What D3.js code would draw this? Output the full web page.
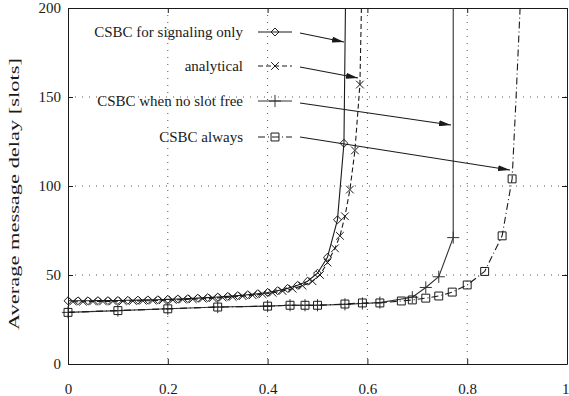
<!DOCTYPE html>
<html>
<head>
<meta charset="utf-8">
<script src="https://cdn.jsdelivr.net/npm/d3@7"></script>
<style>
  body { margin: 0; background: #fff; }
  svg { display: block; font-family: "Liberation Serif", "DejaVu Serif", serif; }
</style>
</head>
<body>
<div id="chart"></div>
<script>
// x ticks / y ticks
const xTicks = [0, 0.2, 0.4, 0.6, 0.8, 1];
const yTicks = [0, 50, 100, 150, 200];

// CSBC for signaling only (diamonds)
const signalingX = [0, 0.02, 0.04, 0.06, 0.08, 0.1, 0.12, 0.14, 0.16, 0.18, 0.2, 0.22, 0.24, 0.26, 0.28, 0.3,
  0.32, 0.34, 0.36, 0.38, 0.4, 0.42, 0.44, 0.46, 0.48, 0.5, 0.52, 0.54, 0.553];
const signalingY = [35.5, 35.5, 35.5, 35.6, 35.6, 35.7, 35.8, 35.9, 36, 36.1, 36.3, 36.5, 36.7, 37, 37.3, 37.6,
  38, 38.4, 38.9, 39.5, 40.2, 41.2, 42.5, 44.2, 46.5, 51, 60, 81, 124];
const signalingTailX = [0.556];
const signalingTailY = [200];

// analytical (crosses)
const analyticalX = [0.01, 0.03, 0.05, 0.07, 0.09, 0.11, 0.13, 0.15, 0.17, 0.19, 0.21, 0.23, 0.25, 0.27, 0.29,
  0.31, 0.33, 0.35, 0.37, 0.39, 0.41, 0.43, 0.45, 0.47, 0.49, 0.505, 0.52, 0.535, 0.545, 0.555, 0.565, 0.575, 0.585];
const analyticalY = [35, 35, 35.1, 35.1, 35.2, 35.3, 35.4, 35.5, 35.6, 35.8, 36, 36.2, 36.4, 36.7, 37,
  37.3, 37.7, 38.1, 38.6, 39.2, 40, 41, 42.3, 44, 46.5, 50, 57, 65, 72, 83, 98, 120, 157];
const analyticalTailX = [0.588];
const analyticalTailY = [200];

// CSBC when no slot free (plus)
const noSlotX = [0, 0.1, 0.2, 0.3, 0.4, 0.445, 0.475, 0.5, 0.555, 0.59, 0.625, 0.69, 0.717, 0.743, 0.772];
const noSlotY = [29, 30, 31, 32, 32.5, 33, 33, 33, 33.5, 34, 34.5, 37.5, 43, 49, 71];
const noSlotTailX = [0.772];
const noSlotTailY = [200];

// CSBC always (squares)
const alwaysX = [0, 0.1, 0.2, 0.3, 0.4, 0.445, 0.475, 0.5, 0.555, 0.59, 0.625, 0.668, 0.69, 0.717, 0.743,
  0.77, 0.8, 0.835, 0.87, 0.89];
const alwaysY = [29, 30, 31, 32, 32.5, 33, 33, 33, 33.7, 34.3, 34.3, 35.4, 36, 37, 38.2,
  40.4, 44.4, 52, 72, 104];
const alwaysTailX = [0.898, 0.906];
const alwaysTailY = [150, 200];

const legendLabels = ["CSBC for signaling only", "analytical", "CSBC when no slot free", "CSBC always"];

const width = 569, height = 396;
const plot = { left: 68, right: 567, top: 8, bottom: 364 };

const svg = d3.select("#chart").append("svg")
  .attr("width", width)
  .attr("height", height);

const x = d3.scaleLinear().domain([0, 1]).range([plot.left, plot.right]);
const y = d3.scaleLinear().domain([0, 200]).range([plot.bottom, plot.top]);

const ink = "#1a1a1a";

// grid
const grid = svg.append("g").attr("stroke", "#555").attr("stroke-width", 1).attr("stroke-dasharray", "1,6");
grid.selectAll(".gx").data(xTicks.slice(1, -1)).join("line")
  .attr("x1", d => x(d)).attr("x2", d => x(d))
  .attr("y1", plot.top).attr("y2", plot.bottom);
grid.selectAll(".gy").data(yTicks.slice(1, -1)).join("line")
  .attr("y1", d => y(d)).attr("y2", d => y(d))
  .attr("x1", plot.left).attr("x2", plot.right);

// axes (ticks inward, mirrored)
const axisBottom = svg.append("g").attr("transform", `translate(0,${plot.bottom})`)
  .call(d3.axisBottom(x).tickValues(xTicks).tickSizeInner(-5).tickSizeOuter(0).tickPadding(19)
    .tickFormat(d => d === 0 || d === 1 ? d3.format("d")(d) : d3.format(".1f")(d)));
const axisLeft = svg.append("g").attr("transform", `translate(${plot.left},0)`)
  .call(d3.axisLeft(y).tickValues(yTicks).tickSizeInner(-5).tickSizeOuter(0).tickPadding(7));
const axisTop = svg.append("g").attr("transform", `translate(0,${plot.top})`)
  .call(d3.axisTop(x).tickValues(xTicks).tickSizeInner(-5).tickSizeOuter(0).tickFormat(""));
const axisRight = svg.append("g").attr("transform", `translate(${plot.right},0)`)
  .call(d3.axisRight(y).tickValues(yTicks).tickSizeInner(-5).tickSizeOuter(0).tickFormat(""));

[axisBottom, axisLeft, axisTop, axisRight].forEach(a => {
  a.select(".domain").attr("stroke", ink);
  a.selectAll(".tick line").attr("stroke", ink);
  a.selectAll("text").attr("font-family", "Liberation Serif").attr("font-size", 15).attr("fill", ink);
});
// the last x label sits on the right edge; keep it inside the window
axisBottom.selectAll(".tick text").filter(d => d === 1).attr("text-anchor", "end").attr("dx", 2);

svg.append("text")
  .attr("transform", `translate(19,194) rotate(-90)`)
  .attr("text-anchor", "middle")
  .attr("font-size", 15)
  .attr("textLength", 272)
  .attr("lengthAdjust", "spacingAndGlyphs")
  .attr("fill", ink)
  .text("Average message delay [slots]");

// series
const zip = (xs, ys) => xs.map((v, i) => [v, ys[i]]);
const series = [
  { pts: zip(signalingX, signalingY), tail: zip(signalingTailX, signalingTailY), dash: null, color: ink, mark: "diamond" },
  { pts: zip(analyticalX, analyticalY), tail: zip(analyticalTailX, analyticalTailY), dash: "5,3", color: ink, mark: "cross" },
  { pts: zip(noSlotX, noSlotY), tail: zip(noSlotTailX, noSlotTailY), dash: null, color: "#333", mark: "plus" },
  { pts: zip(alwaysX, alwaysY), tail: zip(alwaysTailX, alwaysTailY), dash: "7,3,1,3", color: ink, mark: "square" }
];

const line = d3.line().x(d => x(d[0])).y(d => y(d[1]));

const symbols = {
  diamond: d3.symbol().type(d3.symbolDiamond2).size(40),
  cross: d3.symbol().type(d3.symbolTimes).size(40),
  plus: d3.symbol().type(d3.symbolCross2 || d3.symbolPlus).size(50),
  square: d3.symbol().type(d3.symbolSquare2).size(80)
};

function drawMark(g, kind, cx, cy, color) {
  g.append("path")
    .attr("d", symbols[kind]())
    .attr("transform", `translate(${cx},${cy})`)
    .attr("fill", "none")
    .attr("stroke", color)
    .attr("stroke-width", 1);
}

const seriesG = svg.append("g");
series.forEach(s => {
  seriesG.append("path")
    .datum(s.pts.concat(s.tail))
    .attr("d", line)
    .attr("fill", "none")
    .attr("stroke", s.color)
    .attr("stroke-width", 1.1)
    .attr("stroke-dasharray", s.dash);
  const mg = seriesG.append("g");
  s.pts.forEach(p => drawMark(mg, s.mark, x(p[0]), y(p[1]), s.color));
});

// legend
const legendY = [32, 66, 101, 137];
const legend = svg.append("g");
series.forEach((s, i) => {
  legend.append("text")
    .attr("x", 243).attr("y", legendY[i] + 5)
    .attr("text-anchor", "end")
    .attr("font-size", 15)
    .attr("fill", ink)
    .text(legendLabels[i]);
  legend.append("line")
    .attr("x1", 258).attr("x2", 292)
    .attr("y1", legendY[i]).attr("y2", legendY[i])
    .attr("stroke", s.color).attr("stroke-width", 1.1)
    .attr("stroke-dasharray", s.dash);
  drawMark(legend, s.mark, 275, legendY[i], s.color);
});

// arrows from the legend to the curves
svg.append("defs").append("marker")
  .attr("id", "head")
  .attr("viewBox", "0 0 12 6")
  .attr("refX", 12).attr("refY", 3)
  .attr("markerWidth", 12).attr("markerHeight", 6)
  .attr("markerUnits", "userSpaceOnUse")
  .attr("orient", "auto")
  .append("path").attr("d", "M0,0L12,3L0,6Z").attr("fill", ink);

const arrows = [
  [300, 33, 344, 42],
  [300, 67, 358, 78],
  [300, 103, 451, 125],
  [300, 137, 510, 170]
];
svg.append("g").selectAll("line").data(arrows).join("line")
  .attr("x1", d => d[0]).attr("y1", d => d[1])
  .attr("x2", d => d[2]).attr("y2", d => d[3])
  .attr("stroke", ink).attr("stroke-width", 1.1)
  .attr("marker-end", "url(#head)");
</script>
</body>
</html>
